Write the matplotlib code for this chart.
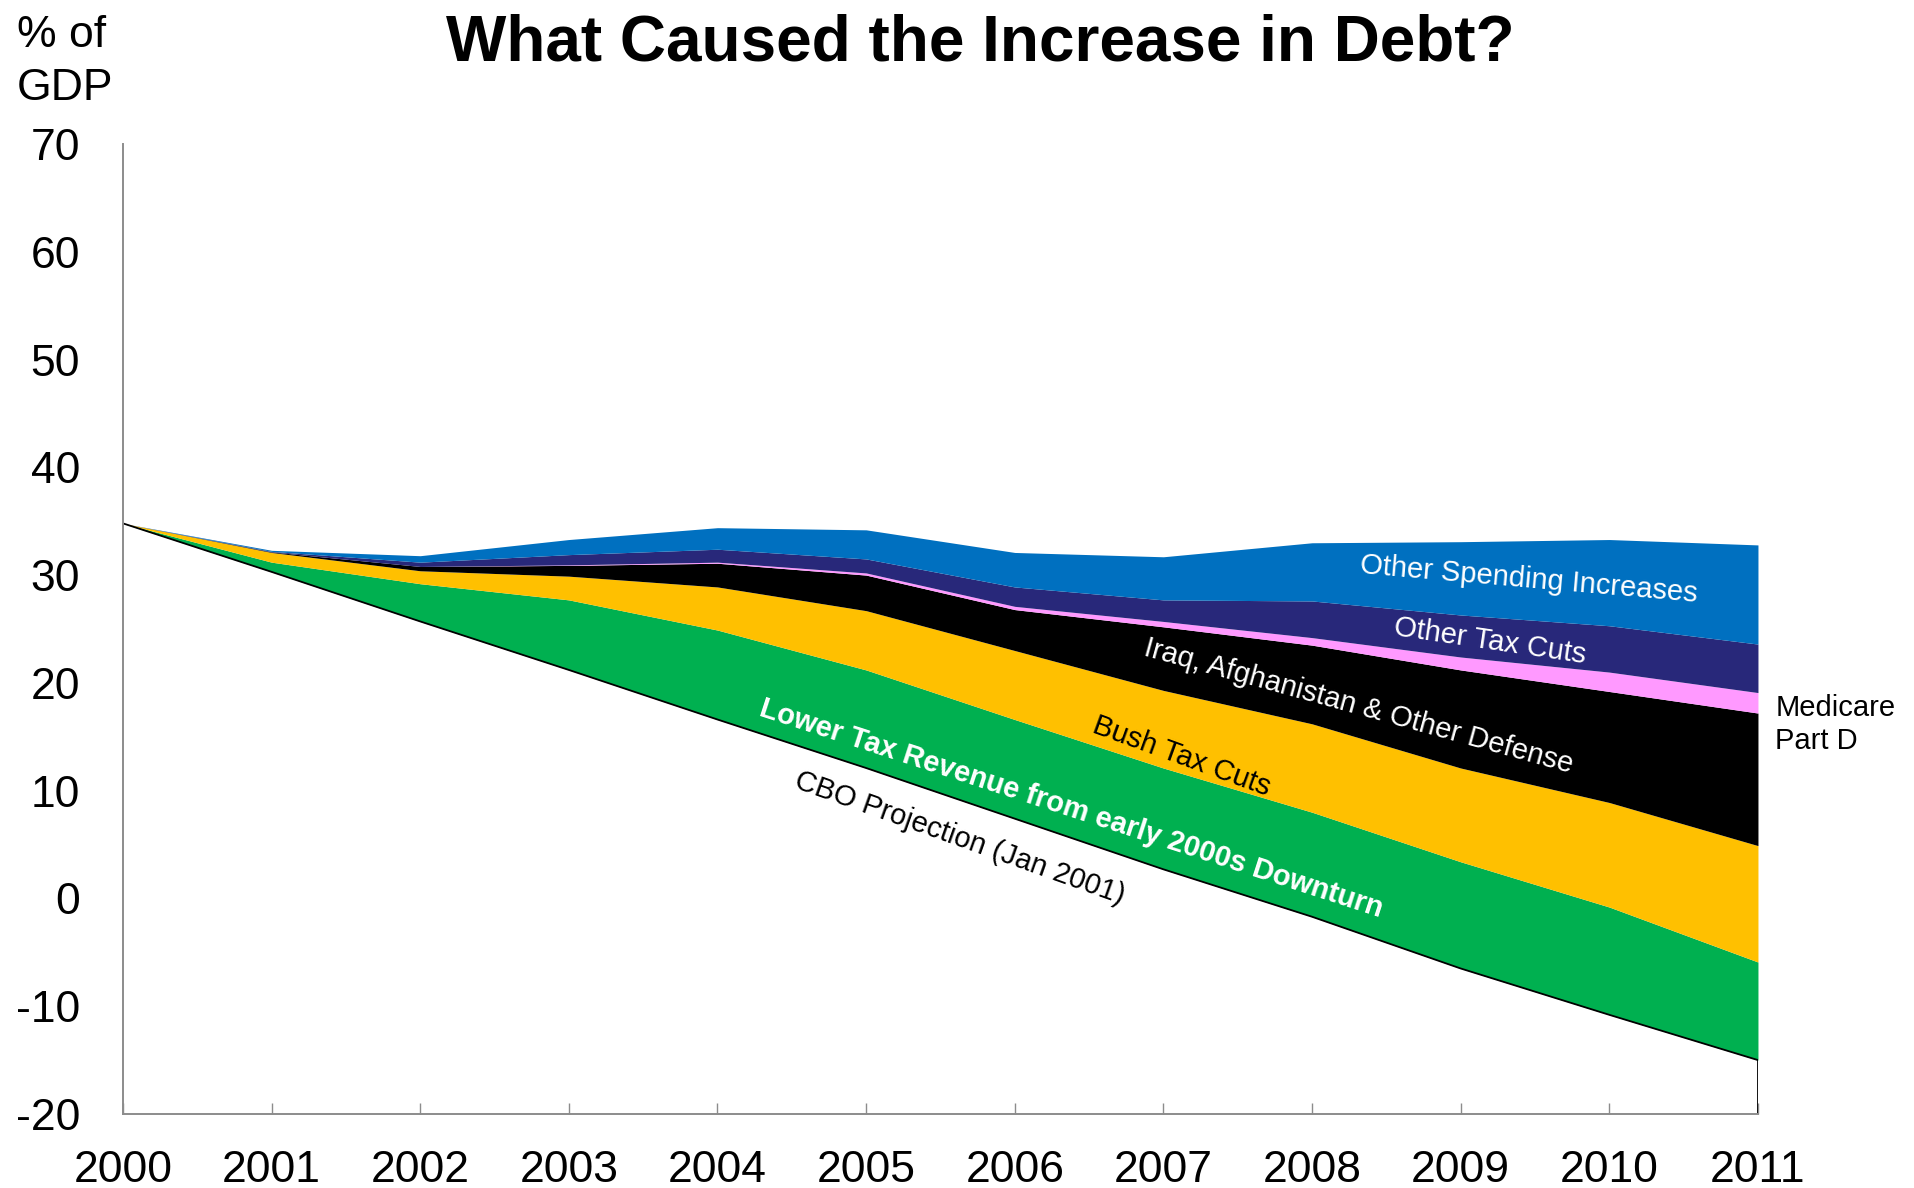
import matplotlib
matplotlib.use("Agg")
import matplotlib.pyplot as plt
import numpy as np

plt.rcParams["font.family"] = ["Liberation Sans", "DejaVu Sans"]

# ---- data (% of GDP) ----
years = [2000, 2001, 2002, 2003, 2004, 2005, 2006, 2007, 2008, 2009, 2010, 2011]
cbo_projection = [34.8, 30.3, 25.7, 21.2, 16.6, 12.1, 7.4, 2.7, -1.7, -6.5, -10.8, -15.0]
lower_tax_revenue = [0, 0.9, 3.5, 6.5, 8.3, 9.1, 9.2, 9.4, 9.7, 9.9, 10.0, 9.1]
bush_tax_cuts = [0, 0.9, 1.2, 2.2, 4.0, 5.5, 6.4, 7.2, 8.2, 8.7, 9.7, 10.8]
defense = [0, 0.05, 0.4, 1.0, 2.2, 3.3, 3.8, 5.9, 7.3, 9.1, 10.3, 12.3]
medicare_part_d = [0, 0, 0, 0.05, 0.1, 0.2, 0.3, 0.5, 0.7, 1.2, 1.8, 1.9]
other_tax_cuts = [0, 0.05, 0.4, 0.95, 1.2, 1.3, 1.8, 2.0, 3.4, 3.9, 4.3, 4.5]
other_spending = [0, 0.1, 0.6, 1.4, 2.0, 2.7, 3.2, 4.0, 5.4, 6.8, 8.0, 9.2]

series = [
    ("Lower Tax Revenue from early 2000s Downturn", lower_tax_revenue, "#00B050"),
    ("Bush Tax Cuts", bush_tax_cuts, "#FFC000"),
    ("Iraq, Afghanistan & Other Defense", defense, "#000000"),
    ("Medicare Part D", medicare_part_d, "#FF99FF"),
    ("Other Tax Cuts", other_tax_cuts, "#28287A"),
    ("Other Spending Increases", other_spending, "#0070C0"),
]

y_ticks = [-20, -10, 0, 10, 20, 30, 40, 50, 60, 70]

fig = plt.figure(figsize=(19.15, 11.88), dpi=100)
ax = fig.add_axes([0.0642, 0.0623, 0.8538, 0.8165])

x = np.array(years)
lower = np.array(cbo_projection, dtype=float)
for name, vals, color in series:
    upper = lower + np.array(vals, dtype=float)
    ax.fill_between(x, lower, upper, color=color, linewidth=0, zorder=2)
    lower = upper

# CBO projection line
ax.plot(x, cbo_projection, color="black", lw=1.3, zorder=3)
ax.plot([years[-1], years[-1]], [y_ticks[0], cbo_projection[-1]], color="black", lw=1.3, zorder=3)

ax.set_xlim(years[0], years[-1])
ax.set_ylim(y_ticks[0], y_ticks[-1])
ax.set_xticks(years)
ax.set_xticklabels([str(y) for y in years])
ax.set_yticks(y_ticks)
ax.set_yticklabels([str(v) for v in y_ticks])

for s in ["top", "right"]:
    ax.spines[s].set_visible(False)
for s in ["left", "bottom"]:
    ax.spines[s].set_color("#8C8C8C")
    ax.spines[s].set_linewidth(1.4)
    ax.spines[s].set_zorder(4)

ax.tick_params(axis="x", direction="in", length=8, width=1, color="#8C8C8C",
               labelsize=32, pad=26)
ax.tick_params(axis="y", length=0, labelsize=32, pad=31)

# in-chart labels
fs = 21
ax.text(2009.46, 29.6, "Other Spending Increases", color="white", fontsize=fs,
        rotation=-4.9, ha="center", va="center", zorder=5)
ax.text(2009.20, 23.9, "Other Tax Cuts", color="white", fontsize=fs,
        rotation=-8.4, ha="center", va="center", zorder=5)
ax.text(2008.31, 17.8, "Iraq, Afghanistan & Other Defense", color="white", fontsize=fs,
        rotation=-15.4, ha="center", va="center", zorder=5)
ax.text(2007.12, 13.2, "Bush Tax Cuts", color="black", fontsize=fs,
        rotation=-20, ha="center", va="center", zorder=5)
ax.text(2006.38, 8.3, "Lower Tax Revenue from early 2000s Downturn", color="white",
        fontsize=fs, fontweight="bold", rotation=-18, ha="center", va="center", zorder=5)
ax.text(2005.63, 5.6, "CBO Projection (Jan 2001)", color="black", fontsize=fs,
        rotation=-19.6, ha="center", va="center", zorder=5)

fig.text(0.927, 0.390, "Medicare\nPart D", fontsize=21, ha="left", va="center",
         linespacing=1.2)

fig.text(0.512, 0.963, "What Caused the Increase in Debt?", fontsize=46,
         fontweight="bold", ha="center", va="center")
fig.text(0.009, 0.987, "% of\nGDP", fontsize=32, ha="left", va="top", linespacing=1.36)

fig.savefig("out.png", dpi=100)
